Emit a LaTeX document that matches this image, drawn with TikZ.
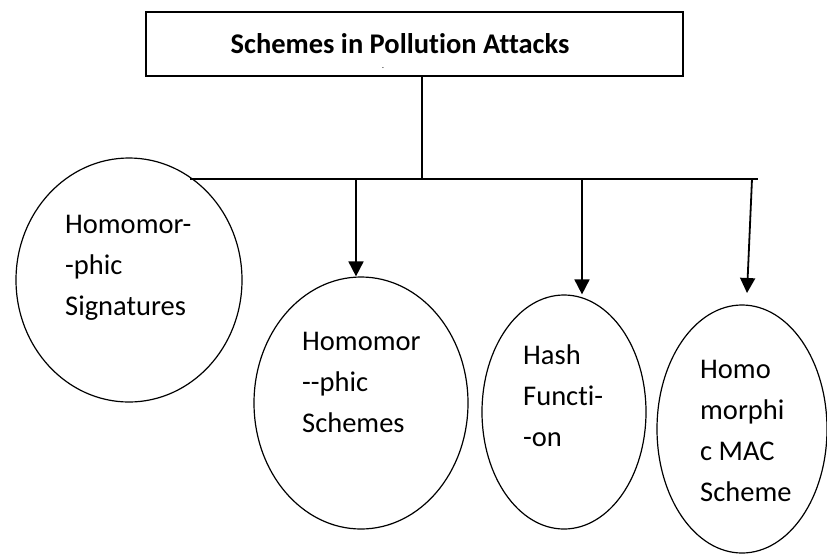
\documentclass[tikz,border=0pt]{standalone}
\usepackage{fontspec}
\setmainfont{Carlito}[Ligatures={TeX,NoCommon}]
\usepackage{tikz}
\usetikzlibrary{
	arrows.meta,
	shapes.geometric,
	positioning
}
\tikzset{
	oval/.style={draw,ellipse,line width=1.2pt,inner sep=0pt},
	lbl/.style={align=left,anchor=base west,inner sep=0pt,font=\fontsize{28.5}{41}\selectfont},
	arr/.style={line width=1.8pt,-{Triangle[length=15pt,width=15pt]}}
}

\begin{document}
\begin{tikzpicture}[x=1pt,y=-1pt]
		\useasboundingbox (0,0) rectangle (827,555);
		% title box
		\node[draw,line width=1.8pt,minimum width=537pt,minimum height=64pt] (title) at (414.5,44) {};
		\node[anchor=base,inner sep=0pt,font=\fontsize{28.5}{34}\selectfont\bfseries] (titletxt) at (400,53) {Schemes in Pollution Attacks};
		\node[anchor=base,inner sep=0pt,font=\fontsize{7}{8}\selectfont\bfseries] (dot) at (383,68) {.};
		% schemes
		\node[oval,minimum width=226pt,minimum height=244pt] (sig) at (129,280) {};
		\node[oval,minimum width=214pt,minimum height=252pt] (sch) at (361,403) {};
		\node[oval,minimum width=164pt,minimum height=234pt] (hash) at (564,412) {};
		\node[oval,minimum width=170pt,minimum height=248pt] (mac) at (742,429) {};
		% base of a multi-line node is its last line
		\node[lbl] (sigtxt) at (65,315) {Homomor-\\-phic\\Signatures};
		\node[lbl] (schtxt) at (302,432) {Homomor\\-{}-phic\\Schemes};
		\node[lbl] (hashtxt) at (523,446) {Hash\\Functi-\\-on};
		\node[lbl] (mactxt) at (700,501) {Homo\\morphi\\c MAC\\Scheme};
		% connectors
		\coordinate (tj) at (422,179);
		\coordinate (bl) at (190,179);
		\coordinate (br) at (758,179);
		\coordinate (b2) at (356,179);
		\coordinate (b3) at (582,179);
		\coordinate (b4) at (752,179);
		\coordinate (t4) at (747,293);
		\draw[line width=1.8pt] (title.south -| tj) -- (tj);
		\draw[line width=1.8pt] (bl) -- (br);
		\draw[arr] (b2) -- (b2 |- sch.north);
		\draw[arr] (b3) -- (b3 |- hash.north);
		\draw[arr] (b4) -- (t4);
	\end{tikzpicture}
\end{document}
